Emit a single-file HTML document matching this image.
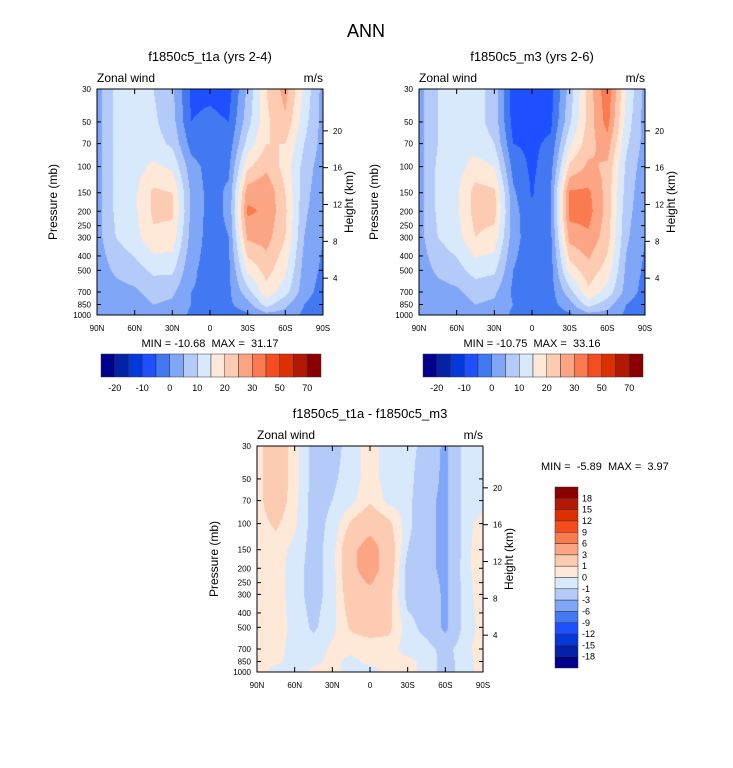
<!DOCTYPE html>
<html><head><meta charset="utf-8">
<style>
body{margin:0;width:733px;height:768px;background:#fff;position:relative;overflow:hidden;font-family:"Liberation Sans",sans-serif}
canvas{position:absolute}
svg{position:absolute;left:0;top:0}
text{white-space:pre}
</style></head>
<body>
<canvas id="c1" width="226" height="226" style="left:97px;top:89px"></canvas>
<canvas id="c2" width="226" height="226" style="left:419px;top:89px"></canvas>
<canvas id="c3" width="226" height="226" style="left:257px;top:446px"></canvas>
<svg id="s" width="733" height="768"></svg>
<script>
const lats=[90,75,60,45,30,15,0,-15,-30,-45,-60,-75,-90];
const pres=[30,50,70,100,150,200,300,500,700,850,1000];
const u1=[
[3,3,3,3,3,3,3,2,2,2,2],
[11,11,11,11,11,11,10,6,3,2,2],
[13,13,13,13,14,14,13,8,4,2,2],
[10,11,12,16,21,21,19,11,7,5,3],
[6,7,9,14,20,21,18,11,6,4,3],
[-6,-5,-2,2,4,4,3,1,0,0,-1],
[-6,-4,-3,-2,-2,-2,-2,-2,-1,-1,-3],
[-7,-5,-3,-1,1,1,0,-1,-1,-1,-2],
[6,8,12,19,28,31,26,16,8,3,-1],
[20,19,20,24,29,29,27,22,18,12,3],
[27,24,20,18,20,21,20,16,12,6,3],
[14,12,10,8,7,6,5,3,2,0,-1],
[3,3,3,2,1,1,0,-1,-2,-3,-3]];
const u2=[
[3,3,3,3,3,3,3,2,2,2,2],
[10,10,10,11,11,11,10,6,3,2,2],
[13,13,13,13,14,14,13,8,4,2,2],
[12,12,13,17,22,22,20,12,7,5,3],
[8,8,10,15,21,22,18,11,6,4,3],
[-8,-7,-5,-2,1,2,2,0,-1,0,-1],
[-8,-7,-6,-6,-5.5,-4,-3,-3,-2,-1,-3],
[-7,-6,-4,-2,0,0,-1,-2,-2,-2,-2],
[7,9,14,21,31,32,27,17,8,3,-1],
[22,22,23,26,31,32,29,23,19,12,3],
[34,32,28,24,23,23,22,18,13,7,3],
[15,13,11,9,8,7,6,4,3,0,-1],
[3,3,3,2,1,1,0,-1,-2,-3,-3]];
const ud=[
[0.5,0.5,0.5,0.5,0.5,0.5,0.5,0.5,0.5,0.5,0.5],
[2,2,2,1.2,0.5,0.5,0.5,0.5,0.5,0.3,-0.5],
[0.5,0.5,0.3,0.2,-0.3,-0.5,-0.5,-0.3,-0.5,-0.5,-0.5],
[-1.5,-1.5,-1.5,-1.5,-1.5,-1.5,-1.5,-1.2,-0.5,-0.3,0.3],
[-1.5,-1.2,-1,-0.7,-0.5,-0.5,-0.5,-0.3,0.2,0.3,0.4],
[-0.5,-0.5,-0.3,1.2,2.5,2.5,2,1.2,0.3,-0.3,-0.5],
[0.5,0.5,0.8,2.2,4,4,2.5,1.5,0.5,0.3,-0.5],
[-0.5,-0.5,-0.3,1.3,2,2,1.5,1.3,0.5,0.5,0.3],
[-0.5,-0.5,-0.5,-0.5,-1,-1.5,-1.5,-0.5,-0.5,0.3,0.3],
[-1.5,-2,-2.5,-2.5,-2.5,-2.5,-1.5,-1.5,-0.5,-0.3,-0.3],
[-3.5,-3.5,-3.5,-3.5,-3.5,-3.5,-3.5,-3.5,-1.5,-1.5,-1.5],
[-0.5,-0.5,-0.5,-0.5,-0.5,-0.3,-0.5,-0.5,-0.3,-0.5,-0.5],
[-0.5,-0.5,-0.5,0.5,0.8,0.5,0.5,0.3,0.5,0.5,0.5]];
const levAbs=[-20,-15,-10,-5,0,5,10,15,20,25,30,40,50,60,70];
const levDiff=[-18,-15,-12,-9,-6,-3,-1,0,1,3,6,9,12,15,18];
const colors=["#00008c","#0322a8","#0538dc","#1e50ff","#4279f2","#80a6f7","#b4cbfa","#d9e9fc","#fee8d8","#fdcab2","#fca584","#fb7a4f","#f64d20","#dc3003","#b21802","#8a0000"];
const absLabels=["-20","-10","0","10","20","30","50","70"];
const diffLabels=["18","15","12","9","6","3","1","0","-1","-3","-6","-9","-12","-15","-18"];
const pTicks=[30,50,70,100,150,200,250,300,400,500,700,850,1000];
const hTicks=[4,8,12,16,20];
const xTicks=["90N","60N","30N","0","30S","60S","90S"];

const W=226,H=226,LP=Math.log(1000/30);
function yOfP(p){return H*Math.log(p/30)/LP;}
function field(g,x,y){
  const lat=90-180*x/W; let fi=(90-lat)/15; let i=Math.min(11,Math.floor(fi)); let fx=fi-i;
  const lp=Math.log(30)+LP*y/H; let j=0;
  while(j<9&&Math.log(pres[j+1])<lp)j++;
  let fy=(lp-Math.log(pres[j]))/(Math.log(pres[j+1])-Math.log(pres[j])); fy=Math.max(0,Math.min(1,fy));
  const a=g[i][j],b=g[i+1][j],c=g[i][j+1],d=g[i+1][j+1];
  return (a*(1-fx)+b*fx)*(1-fy)+(c*(1-fx)+d*fx)*fy;
}
function hex(h){return [parseInt(h.substr(1,2),16),parseInt(h.substr(3,2),16),parseInt(h.substr(5,2),16)];}
const rgb=colors.map(hex);
function draw(id,g,lev){
  const cv=document.getElementById(id),ctx=cv.getContext('2d'),im=ctx.createImageData(W,H);
  for(let y=0;y<H;y++)for(let x=0;x<W;x++){
    const v=field(g,x+0.5,y+0.5);let k=0;while(k<lev.length&&v>=lev[k])k++;
    const c=rgb[k],o=(y*W+x)*4;im.data[o]=c[0];im.data[o+1]=c[1];im.data[o+2]=c[2];im.data[o+3]=255;}
  ctx.putImageData(im,0,0);
}
draw('c1',u1,levAbs);draw('c2',u2,levAbs);draw('c3',ud,levDiff);

const S=document.getElementById('s');const NS='http://www.w3.org/2000/svg';
function el(t,a,txt){const e=document.createElementNS(NS,t);for(const k in a)e.setAttribute(k,a[k]);if(txt!==undefined)e.textContent=txt;S.appendChild(e);return e;}
function text(x,y,s,size,anchor,name,rot){const e=el('text',{x:x,y:y,'font-size':size,'text-anchor':anchor||'middle',fill:'#000'},s);


if(rot)e.setAttribute('transform','rotate(-90 '+x+' '+y+')');return e;}
text(366,37,'ANN',18,'middle','main-title');
function panel(x0,y0,title,yl){
  const fr=el('rect',{x:x0,y:y0,width:W,height:H,fill:'none',stroke:'#000','stroke-width':1});
  
  
  text(x0+W/2,y0-28,title,13,'middle','panel-title');
  text(x0,y0-7,'Zonal wind',12,'start','variable-label');
  text(x0+W,y0-7,'m/s',12,'end','units-label');
  pTicks.forEach(p=>{const y=y0+yOfP(p);el('line',{x1:x0,x2:x0+4,y1:y,y2:y,stroke:'#000'});
    el('line',{x1:x0+W,x2:x0+W-4,y1:y,y2:y,stroke:'#000'});
    text(x0-6,y+3,String(p),8,'end','pressure-tick-label');});
  hTicks.forEach(h=>{const p=1000*Math.exp(-h/7);const y=y0+yOfP(p);el('line',{x1:x0+W,x2:x0+W+5,y1:y,y2:y,stroke:'#000'});
    text(x0+W+10,y+3,String(h),8,'start','height-tick-label');});
  xTicks.forEach((l,i)=>{const x=x0+W*i/6;el('line',{x1:x,x2:x,y1:y0+H,y2:y0+H-5,stroke:'#000'});
    el('line',{x1:x,x2:x,y1:y0,y2:y0+5,stroke:'#000'});
    text(x,y0+H+16,l,8,'middle','lat-tick-label');});
  text(yl,y0+H/2,'Pressure (mb)',12,'middle','y-axis-title',true);
  text(x0+W+30,y0+H/2,'Height (km)',12,'middle','height-axis-title',true);
}
panel(97,89,'f1850c5_t1a (yrs 2-4)',57);
panel(419,89,'f1850c5_m3 (yrs 2-6)',378);
panel(257,446,'f1850c5_t1a - f1850c5_m3',218);
text(210,347,'MIN = -10.68  MAX =  31.17',11,'middle','min-max-label');
text(532,347,'MIN = -10.75  MAX =  33.16',11,'middle','min-max-label');
text(541,470,'MIN =  -5.89  MAX =  3.97',11,'start','min-max-label');
function hbar(x0,y0,w,h){const bw=w/16;
  colors.forEach((c,i)=>{const r=el('rect',{x:x0+i*bw,y:y0,width:bw,height:h,fill:c,stroke:'#333','stroke-width':0.5});
    
    });
  absLabels.forEach((l,i)=>text(x0+bw*(1+2*i),y0+h+14,l,9,'middle','colorbar-label'));}
hbar(101,354,220,23);hbar(423,354,220,23);
(function(){const x0=555,y0=487,h=181,bh=h/16;
  colors.slice().reverse().forEach((c,i)=>{const r=el('rect',{x:x0,y:y0+i*bh,width:23,height:bh,fill:c,stroke:'#333','stroke-width':0.5});
    
    });
  diffLabels.forEach((l,i)=>text(x0+27,y0+bh*(i+1)+3,l,9,'start','diff-colorbar-label'));})();
</script>
</body></html>
